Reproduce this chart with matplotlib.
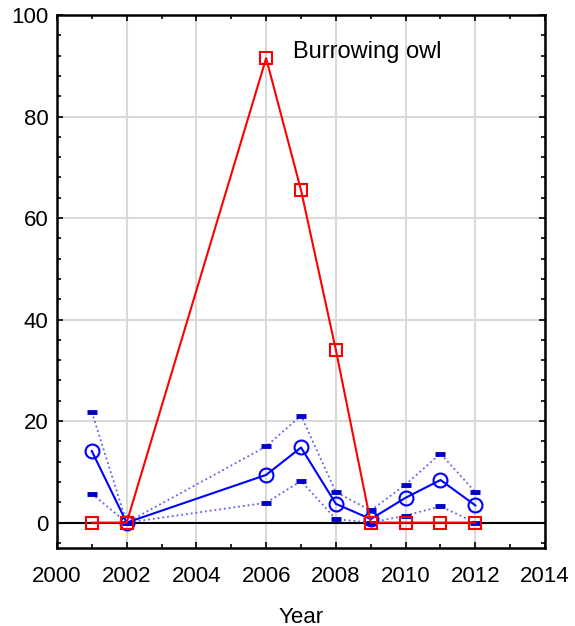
import matplotlib
matplotlib.use("Agg")
import matplotlib.pyplot as plt
from matplotlib.ticker import MultipleLocator

plt.rcParams['font.family'] = ['Liberation Sans', 'DejaVu Sans']

years = [2001, 2002, 2006, 2007, 2008, 2009, 2010, 2011, 2012]
red_vals = [0, 0, 91.5, 65.5, 34, 0, 0, 0, 0]
blue_mean = [14.1, 0, 9.4, 14.8, 3.7, 0.7, 4.9, 8.4, 3.4]
blue_upper = [21.8, 0, 15.0, 21.1, 6.0, 2.4, 7.5, 13.6, 6.0]
blue_lower = [5.7, 0, 3.9, 8.2, 0.7, 0, 1.4, 3.2, 0.0]

fig = plt.figure(figsize=(5.75, 6.26), dpi=100)
ax = fig.add_axes([0.099, 0.1246, 0.849, 0.8514])

ax.axhline(0, color='black', lw=1.5, zorder=1)
ax.plot(years, blue_upper, ls=':', color='#6060ee', lw=1.3, marker='_',
        ms=7, mew=3.5, mec='#0000c8', zorder=2)
ax.plot(years, blue_lower, ls=':', color='#6060ee', lw=1.3, marker='_',
        ms=7, mew=3.5, mec='#0000c8', zorder=2)
ax.plot(years, blue_mean, '-', color='#0000ff', lw=1.5, marker='o', ms=10,
        mfc='none', mec='#0000ff', mew=1.5, zorder=3)
ax.plot(years, red_vals, '-', color='#ff0000', lw=1.5, marker='s', ms=8.5,
        mfc='none', mec='#ff0000', mew=1.5, zorder=4)

ax.text(2008.9, 92.7, 'Burrowing owl', fontsize=17, ha='center', va='center')

ax.set_xlim(2000, 2014)
ax.set_ylim(-5, 100)
ax.xaxis.set_major_locator(MultipleLocator(2))
ax.xaxis.set_minor_locator(MultipleLocator(1))
ax.yaxis.set_major_locator(MultipleLocator(20))
ax.yaxis.set_minor_locator(MultipleLocator(4))
ax.grid(True, which='major', color='#d9d9d9', lw=1.5, zorder=0)
ax.set_axisbelow(True)
ax.tick_params(which='both', direction='in', labelsize=16, width=1.2,
               top=True, right=True)
ax.tick_params(which='major', length=4)
ax.tick_params(which='minor', length=3)
ax.tick_params(axis='x', pad=13)
ax.tick_params(axis='y', pad=6)
for s in ax.spines.values():
    s.set_linewidth(1.8)
ax.set_xlabel('Year', fontsize=16, labelpad=14)

fig.savefig('out.png', dpi=100)
